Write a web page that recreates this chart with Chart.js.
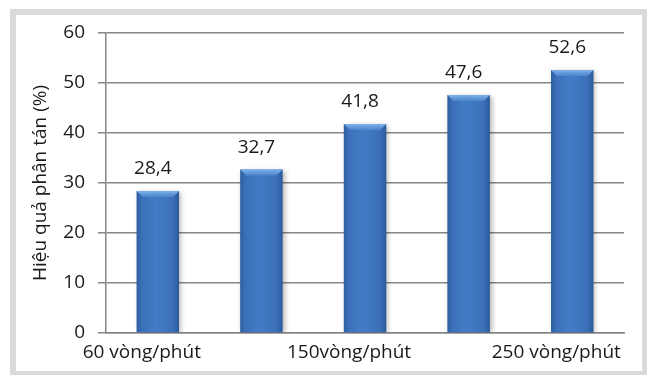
<!DOCTYPE html>
<html>
<head>
  <meta charset="utf-8">
  <title>Hiệu quả phân tán</title>
  <script src="https://cdn.jsdelivr.net/npm/chart.js"></script>
  <style>
    html, body { margin: 0; padding: 0; background: #fff; }
    #frame { position: absolute; left: 10px; top: 9px; width: 638px; height: 368px;
             box-sizing: border-box; border: 6px solid #dadada; background: #fff; }
    #wrap { position: absolute; left: 0; top: 0; width: 647px; height: 375px; }
  </style>
</head>
<body>
  <div id="frame"></div>
  <div id="wrap"><canvas id="chart" width="647" height="375"></canvas></div>
  <script>
    // data
    const categories = ["60 vòng/phút", "100 vòng/phút", "150vòng/phút", "200 vòng/phút", "250 vòng/phút"];
    const tickLabels = ["60 vòng/phút", "", "150vòng/phút", "", "250 vòng/phút"];
    const efficiency = [28.4, 32.7, 41.8, 47.6, 52.6];
    const yTicks = [0, 10, 20, 30, 40, 50, 60];

    const FONT = "'Open Sans', 'Noto Sans', sans-serif";
    const FS = 19;

    // horizontal shading across each bar, like the cylinder look in the original
    function barFill(ctx) {
      const chart = ctx.chart;
      const x = chart.scales.x;
      if (!chart.chartArea || !x) return "#3a72bd";
      const cx = x.getPixelForValue(ctx.dataIndex);
      const half = (x.width / categories.length) * 0.41 / 2;
      const g = chart.ctx.createLinearGradient(cx - half, 0, cx + half, 0);
      g.addColorStop(0, "#2c5d9f");
      g.addColorStop(0.12, "#3a70b9");
      g.addColorStop(0.45, "#437cc6");
      g.addColorStop(0.85, "#3a70b8");
      g.addColorStop(1, "#2b5a9a");
      return g;
    }

    const barLook = {
      id: "barLook",
      beforeDatasetsDraw(chart) {
        const c = chart.ctx;
        c.save();
        c.shadowColor = "rgba(0,0,0,0.3)";
        c.shadowBlur = 5;
        c.shadowOffsetX = 2;
        c.shadowOffsetY = 1;
      },
      afterDatasetsDraw(chart) {
        const c = chart.ctx;
        c.restore();
        const meta = chart.getDatasetMeta(0);
        meta.data.forEach((bar, i) => {
          const l = bar.x - bar.width / 2, r = bar.x + bar.width / 2, t = bar.y;
          // top bevel
          const bev = 6;
          const g = c.createLinearGradient(0, t, 0, t + bev);
          g.addColorStop(0, "#7fb0ea");
          g.addColorStop(1, "#4a84cc");
          c.fillStyle = g;
          c.beginPath();
          c.moveTo(l, t); c.lineTo(r, t); c.lineTo(r - bev, t + bev); c.lineTo(l + bev, t + bev);
          c.closePath(); c.fill();
          // value label
          c.fillStyle = "#1a1a1a";
          c.font = FS + "px " + FONT;
          c.textAlign = "center";
          c.textBaseline = "alphabetic";
          c.fillText(String(efficiency[i]).replace(".", ","), bar.x - 5, t - 17);
        });
      }
    };

    new Chart(document.getElementById("chart"), {
      type: "bar",
      data: {
        labels: categories,
        datasets: [{
          data: efficiency,
          backgroundColor: barFill,
          borderWidth: 0,
          barPercentage: 0.41,
          categoryPercentage: 1
        }]
      },
      options: {
        responsive: false,
        animation: false,
        events: [],
        layout: { padding: { left: 0, top: 33, right: 22, bottom: 0 } },
        plugins: { legend: { display: false }, tooltip: { enabled: false } },
        scales: {
          x: {
            afterFit(s) { s.height = 42; },
            grid: { display: false, drawTicks: false },
            border: { display: true, color: "#868686", width: 1.5 },
            ticks: {
              autoSkip: false, maxRotation: 0, padding: 8, labelOffset: -16,
              color: "#1a1a1a", font: { family: FONT, size: FS },
              callback: (v, i) => tickLabels[i]
            }
          },
          y: {
            min: 0, max: 60,
            afterFit(s) { s.width = 106; },
            afterBuildTicks(s) { s.ticks = yTicks.map(v => ({ value: v })); },
            grid: { color: "#868686", lineWidth: 1.5, tickLength: 8 },
            border: { display: true, color: "#868686", width: 1.5 },
            ticks: { padding: 13, color: "#1a1a1a", font: { family: FONT, size: FS } },
            title: {
              display: true, text: "Hiệu quả phân tán (%)",
              color: "#1a1a1a", font: { family: FONT, size: FS },
              padding: { top: 29, bottom: 0 }
            }
          }
        }
      },
      plugins: [barLook]
    });
  </script>
</body>
</html>
